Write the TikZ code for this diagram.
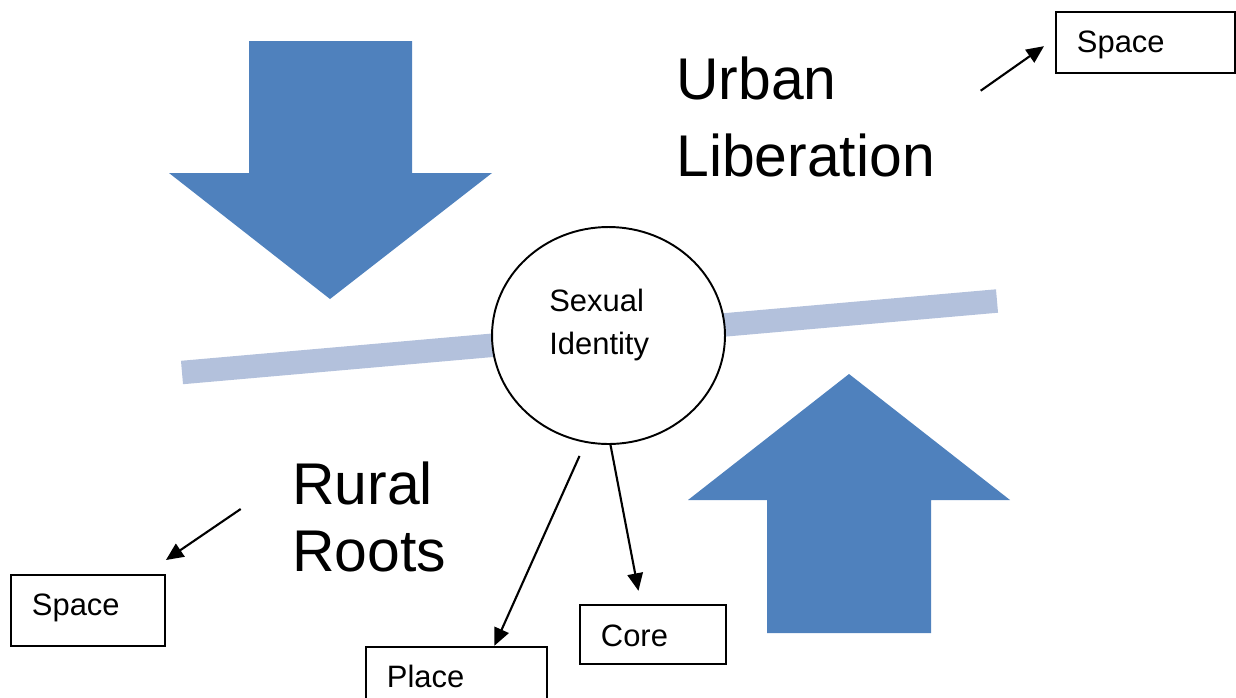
\documentclass[tikz,border=0pt]{standalone}
\usepackage{fontspec}
\setmainfont{Liberation Sans}
\usetikzlibrary{shapes.geometric, arrows.meta}
\definecolor{arrowblue}{RGB}{79,129,189}
\definecolor{barblue}{RGB}{179,193,220}

\begin{document}
\begin{tikzpicture}[x=0.02cm, y=-0.02cm,
  bigarrow/.style={fill=arrowblue},
  tagbox/.style={draw, line width=1.1pt, inner xsep=0.42cm, inner ysep=0pt, text height=0.82cm, anchor=north west, align=left, font=\fontsize{17.6pt}{21pt}\selectfont},
  pointer/.style={line width=1.2pt, -{Triangle[length=0.35cm,width=0.31cm]}},
  bigtext/.style={inner sep=0pt, anchor=base west, align=left}]
\useasboundingbox (0,0) rectangle (1236,697);
%% big arrows
\fill[bigarrow] (249,41) -- (412,41) -- (412,173) -- (492,173) -- (330,299) -- (169,173) -- (249,173) -- cycle;
\fill[bigarrow] (767,633) -- (931,633) -- (931,500) -- (1010,500) -- (849,374) -- (688,500) -- (767,500) -- cycle;
%% bar
\draw[barblue, line width=0.47cm] (182,372.5) -- (997,301);
%% centre
\node[draw, ellipse, line width=1.1pt, fill=white, minimum width=4.66cm, minimum height=4.34cm, inner sep=0pt] (identity) at (608.5,335.5) {};
\node[inner sep=0pt, anchor=base west, align=left, font=\fontsize{17.6pt}{24pt}\selectfont] (identlbl) at (549,354) {Sexual\\Identity};
%% headings (anchor on last line)
\node[bigtext, font=\fontsize{33.5pt}{43.5pt}\selectfont] (urban) at (676,176) {Urban\\Liberation};
\node[bigtext, font=\fontsize{33.5pt}{38.4pt}\selectfont] (rural) at (292,571.7) {Rural\\Roots};
%% boxes
\node[tagbox, text width=2.74cm, text depth=0.40cm] (spaceUR) at (1055,10.7) {Space};
\node[tagbox, text width=2.24cm, text depth=0.60cm] (spaceLL) at (10,574) {Space};
\node[tagbox, text width=2.78cm, text depth=0.80cm] (place) at (365,645.7) {Place};
\node[tagbox, text width=2.08cm, text depth=0.36cm] (core) at (579,604.3) {Core};
%% pointers
\coordinate (urTail) at (980.7,90.7);
\coordinate (llTail) at (240.7,509);
\draw[pointer] (urTail) -- ([xshift=-0.22cm,yshift=-0.08cm]spaceUR.west);
\draw[pointer] (llTail) -- ([yshift=0.28cm]spaceLL.north east);
\draw[pointer] ([xshift=-0.58cm,yshift=-0.22cm]identity.south) -- ([xshift=0.76cm]place.north);
\draw[pointer] ([xshift=0.04cm]identity.south) -- ([xshift=-0.29cm,yshift=0.27cm]core.north);
\end{tikzpicture}
\end{document}
